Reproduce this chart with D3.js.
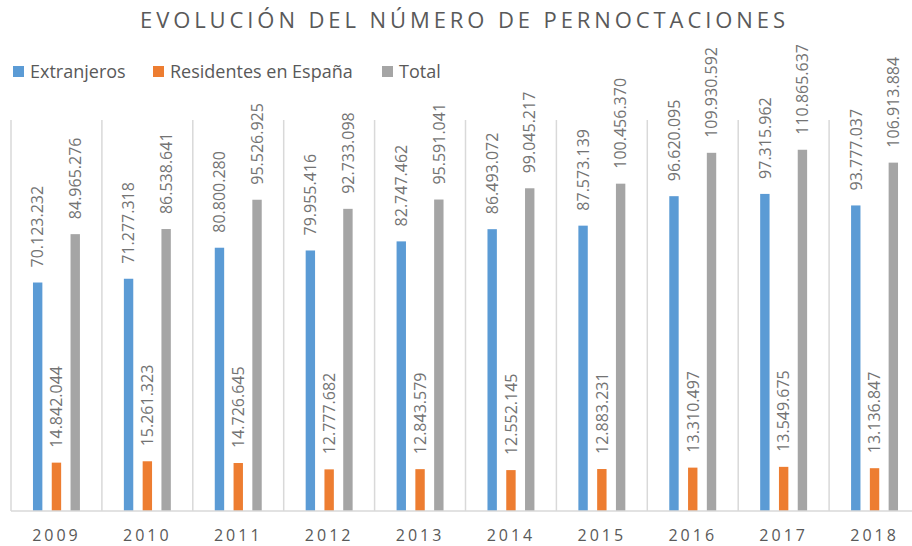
<!DOCTYPE html>
<html>
<head>
<meta charset="utf-8">
<script src="https://cdn.jsdelivr.net/npm/d3@7"></script>
<style>
  html, body { margin: 0; padding: 0; background: #fff; }
  svg { display: block; font-family: "Open Sans", "Noto Sans", sans-serif; }
</style>
</head>
<body>
<svg id="chart" width="912" height="546"></svg>
<script>
const years = ["2009","2010","2011","2012","2013","2014","2015","2016","2017","2018"];
const extranjeros = [70123232, 71277318, 80800280, 79955416, 82747462, 86493072, 87573139, 96620095, 97315962, 93777037];
const residentes = [14842044, 15261323, 14726645, 12777682, 12843579, 12552145, 12883231, 13310497, 13549675, 13136847];
const total = [84965276, 86538641, 95526925, 92733098, 95591041, 99045217, 100456370, 109930592, 110865637, 106913884];
const seriesNames = ["Extranjeros", "Residentes en España", "Total"];
const seriesColors = ["#5b9bd5", "#ed7d31", "#a5a5a5"];
const title = "EVOLUCIÓN DEL NÚMERO DE PERNOCTACIONES";

const seriesValues = [extranjeros, residentes, total];
const svg = d3.select("#chart");

const plot = { left: 11, right: 920, top: 120, bottom: 511 };

const x = d3.scaleBand().domain(years).range([plot.left, plot.right]).padding(0);
const x1 = d3.scaleBand().domain(seriesNames).range([0, x.bandwidth()]).paddingInner(0.5).paddingOuter(1.17);
const y = d3.scaleLinear().domain([0, 120000000]).range([plot.bottom, plot.top]);

const fmt = d3.formatLocale({ decimal: ",", thousands: ".", grouping: [3], currency: ["", ""] }).format(",d");

// vertical gridlines at band boundaries
const bounds = years.map(d => x(d)).concat([x(years[years.length - 1]) + x.bandwidth()]);
svg.append("g").selectAll("line").data(bounds).join("line")
  .attr("x1", d => d).attr("x2", d => d)
  .attr("y1", plot.top).attr("y2", plot.bottom)
  .attr("stroke", "#d9d9d9").attr("stroke-width", 1.5);

// bars
const data = [];
years.forEach((yr, i) => seriesNames.forEach((s, j) => data.push({ yr, s, j, v: seriesValues[j][i] })));

svg.append("g").selectAll("rect").data(data).join("rect")
  .attr("x", d => x(d.yr) + x1(d.s))
  .attr("width", x1.bandwidth())
  .attr("y", d => y(d.v))
  .attr("height", d => y(0) - y(d.v))
  .attr("fill", d => seriesColors[d.j]);

// data labels
svg.append("g").selectAll("text").data(data).join("text")
  .attr("transform", d => `translate(${x(d.yr) + x1(d.s) + x1.bandwidth() / 2},${y(d.v) - 15}) rotate(-90)`)
  .attr("dy", "0.36em")
  .attr("text-anchor", "start")
  .attr("font-size", 16)
  .attr("fill", "#737373")
  .text(d => fmt(d.v));

// x axis line
svg.append("line")
  .attr("x1", plot.left).attr("x2", plot.right)
  .attr("y1", plot.bottom).attr("y2", plot.bottom)
  .attr("stroke", "#d9d9d9").attr("stroke-width", 1.5);

// x axis labels
const xAxis = d3.axisBottom(x).tickSize(0).tickPadding(0);
const gx = svg.append("g").attr("transform", `translate(0,${plot.bottom})`).call(xAxis);
gx.select(".domain").remove();
gx.selectAll("text")
  .attr("y", 30)
  .attr("dy", 0)
  .attr("font-family", "'Open Sans', sans-serif")
  .attr("font-size", 16)
  .attr("letter-spacing", "3px")
  .attr("fill", "#595959");

// title
svg.append("text")
  .attr("x", 140).attr("y", 28)
  .attr("textLength", 645).attr("lengthAdjust", "spacing")
  .attr("font-size", 22)
  .attr("fill", "#595959")
  .text(title);

// legend
const legendX = [13, 153, 382];
const lg = svg.append("g").selectAll("g").data(seriesNames).join("g")
  .attr("transform", (d, i) => `translate(${legendX[i]},66)`);
lg.append("rect").attr("width", 11).attr("height", 11).attr("fill", (d, i) => seriesColors[i]);
lg.append("text").attr("x", 17).attr("y", 12).attr("font-size", 18).attr("fill", "#595959").text(d => d);
</script>
</body>
</html>
